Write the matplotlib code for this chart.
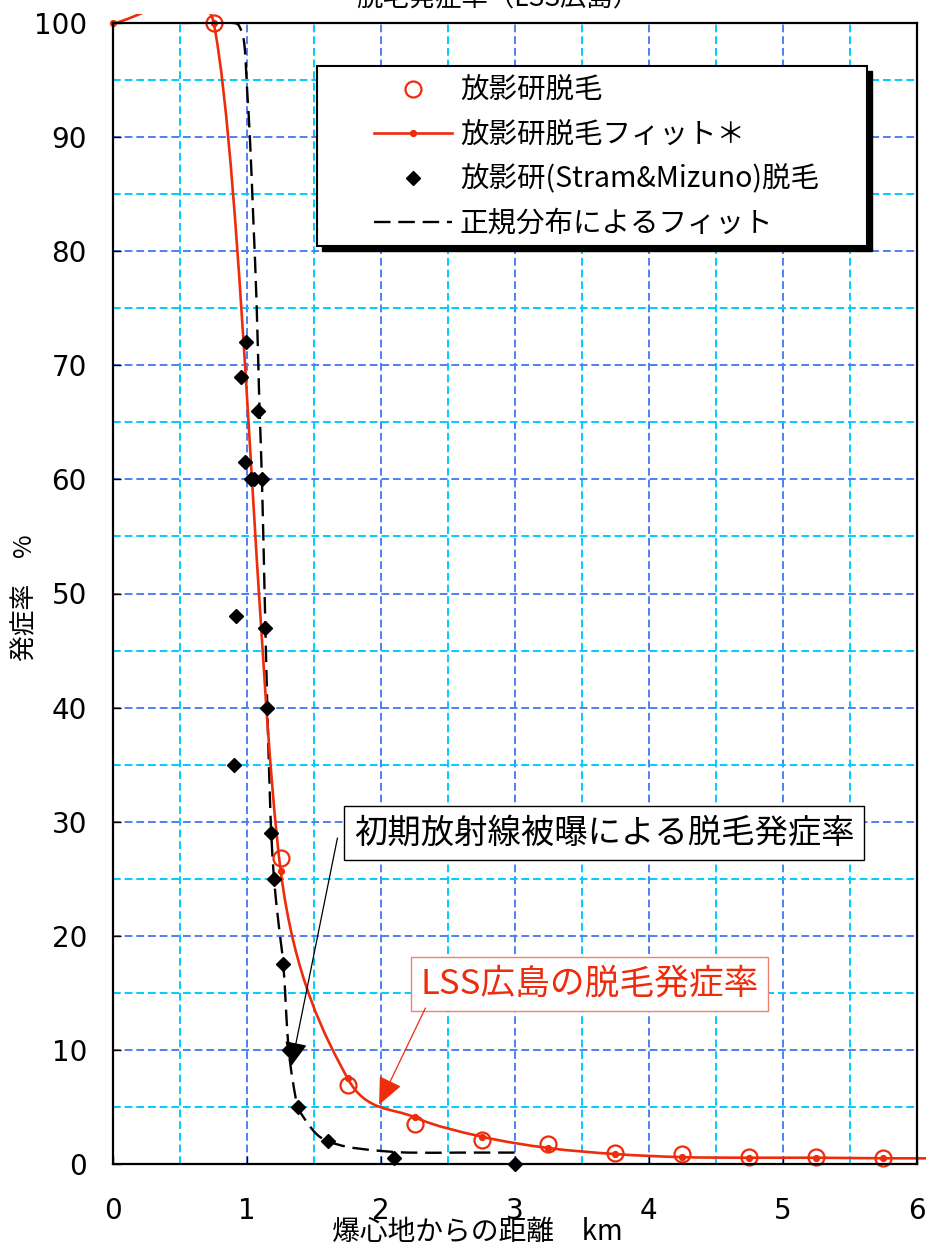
import numpy as np
import matplotlib
matplotlib.use("Agg")
import matplotlib.pyplot as plt
from matplotlib.path import Path
from matplotlib.patches import PathPatch, Rectangle
from matplotlib.lines import Line2D

plt.rcParams['font.family'] = ['Noto Sans CJK JP', 'DejaVu Sans']

# ---------------- data ----------------
title = "脱毛発症率（LSS広島）"
xlabel = "爆心地からの距離　km"
ylabel = "発症率　%"

# 放影研脱毛 (open circles)
rerf_x = [0.75, 1.25, 1.75, 2.25, 2.75, 3.25, 3.75, 4.25, 4.75, 5.25, 5.75]
rerf_y = [100, 26.8, 6.9, 3.5, 2.1, 1.75, 0.96, 0.87, 0.6, 0.6, 0.5]

# 放影研脱毛フィット＊ (smoothed red line with dots)
fit_x = [0.0, 0.75, 1.25, 1.75, 2.25, 2.75, 3.25, 3.75, 4.25, 4.75, 5.25, 5.75, 6.25]
fit_y = [100, 100, 25.7, 7.5, 4.1, 2.4, 1.4, 0.87, 0.6, 0.55, 0.55, 0.5, 0.5]

# 放影研(Stram&Mizuno)脱毛 (black diamonds)
sm_x = [0.90, 0.92, 0.95, 0.98, 0.99, 1.03, 1.05, 1.08, 1.11, 1.13, 1.15,
        1.18, 1.20, 1.27, 1.31, 1.38, 1.60, 2.10, 3.00]
sm_y = [35, 48, 69, 61.5, 72, 60, 60, 66, 60, 47, 40,
        29, 25, 17.5, 10, 5, 2, 0.5, 0]

# 正規分布によるフィット (black dashed)
norm_x = [0.5, 0.9, 0.95, 0.98, 1.0, 1.02, 1.045, 1.07, 1.09, 1.11, 1.13, 1.15,
          1.17, 1.18, 1.20, 1.235, 1.27, 1.29, 1.31, 1.34, 1.38, 1.45, 1.52,
          1.60, 1.75, 1.95, 2.2, 2.6, 3.0]
norm_y = [100, 100, 99.5, 98, 94, 90, 83, 75.5, 67, 60, 50, 40,
          32, 29, 25, 21, 17.5, 13.5, 10, 7.3, 5.0, 3.6, 2.6,
          2.0, 1.5, 1.2, 1.0, 1.0, 1.0]

legend_labels = ["放影研脱毛", "放影研脱毛フィット＊",
                 "放影研(Stram&Mizuno)脱毛", "正規分布によるフィット"]

note1 = "初期放射線被曝による脱毛発症率"
note2 = "LSS広島の脱毛発症率"

RED = "#ee2c0c"
MAJ = "#4d80f2"
MIN = "#00ccff"

fig = plt.figure(figsize=(9.26, 12.46), dpi=100)
W, H = 926, 1246
ax = fig.add_axes([113.3 / W, (H - 1164) / H, (916.7 - 113.3) / W, (1164 - 23) / H])
ax.set_xlim(0, 6)
ax.set_ylim(0, 100)


def excel_smooth(xs, ys):
    """Spreadsheet-style smoothed line: cubic Bezier through the points,
    tangent factor 1/6, capped at half the segment length (screen space)."""
    pts = np.column_stack([xs, ys]).astype(float)
    disp = ax.transData.transform(pts)
    n = len(pts)
    verts = [pts[0]]
    codes = [Path.MOVETO]
    for i in range(n - 1):
        i0 = i - 1 if i > 0 else i
        i3 = i + 2 if i + 2 < n else i + 1
        p0, p1, p2, p3 = pts[i0], pts[i], pts[i + 1], pts[i3]
        q0, q1, q2, q3 = disp[i0], disp[i], disp[i + 1], disp[i3]
        d12 = np.hypot(*(q2 - q1))
        d02 = np.hypot(*(q2 - q0))
        d13 = np.hypot(*(q3 - q1))
        f0 = 1 / 6 if d02 == 0 else min(1 / 6, d12 / (2 * d02))
        f1 = 1 / 6 if d13 == 0 else min(1 / 6, d12 / (2 * d13))
        c1 = p1 + (p2 - p0) * f0
        c2 = p2 - (p3 - p1) * f1
        verts += [c1, c2, p2]
        codes += [Path.CURVE4] * 3
    return Path(np.array(verts), codes)


ax.set_xticks(range(0, 7))
ax.set_xticks(np.arange(0.5, 6, 1.0), minor=True)
ax.set_yticks(range(0, 101, 10))
ax.set_yticks(range(5, 100, 10), minor=True)
ax.set_axisbelow(True)
ax.grid(which='major', color=MAJ, ls=(0, (4, 2)), lw=1.4)
ax.grid(which='minor', color=MIN, ls=(0, (4, 2)), lw=1.4)
ax.tick_params(which='major', direction='in', length=6, width=1, color='black',
               labelsize=20)
ax.tick_params(axis='y', which='major', pad=19)
ax.tick_params(axis='x', which='major', pad=24)
ax.tick_params(which='minor', length=0)
for lab in ax.get_xticklabels() + ax.get_yticklabels():
    lab.set_fontfamily(['DejaVu Sans'])
for s in ax.spines.values():
    s.set_linewidth(1.6)
    s.set_color('black')
    s.set_zorder(6)

# black dashed normal fit
norm_patch = PathPatch(excel_smooth(norm_x, norm_y), fill=False, edgecolor='black',
                       lw=1.7, ls=(0, (7, 3.3)), zorder=2.5)
ax.add_patch(norm_patch)

# red smoothed fit (drawn past the plot frame, up to the chart area edge)
chart_area = Rectangle((0, 0), 1, 1 - 14 / H, transform=fig.transFigure,
                       visible=False)
fit_patch = PathPatch(excel_smooth(fit_x, fit_y), fill=False, edgecolor=RED,
                      lw=1.9, zorder=3)
ax.add_patch(fit_patch)
fit_patch.set_clip_path(chart_area)
ax.plot(fit_x, fit_y, ls='none', marker='o', ms=4.2, color=RED, zorder=3.2,
        clip_on=False)

# diamonds
ax.plot(sm_x, sm_y, ls='none', marker='D', ms=7.5, color='black', mec='black',
        zorder=3.5, clip_on=False)

# open circles
ax.plot(rerf_x, rerf_y, ls='none', marker='o', ms=11.5, mfc='none', mec=RED,
        mew=1.6, zorder=3.3, clip_on=False)

# legend box with shadow
lx0, lx1 = (316.7 - 113.3) / 803.4, (866.7 - 113.3) / 803.4
ly0, ly1 = (1164 - 246) / 1141, (1164 - 65.7) / 1141
dx, dy = 5 / 803.4, 5 / 1141
ax.add_patch(Rectangle((lx0 + dx, ly0 - dy), lx1 - lx0, ly1 - ly0, transform=ax.transAxes,
                       facecolor='black', edgecolor='black', zorder=7, clip_on=False))
ax.add_patch(Rectangle((lx0, ly0), lx1 - lx0, ly1 - ly0, transform=ax.transAxes,
                       facecolor='white', edgecolor='black', lw=1.5, zorder=7.1,
                       clip_on=False))

handles = [
    Line2D([], [], ls='none', marker='o', ms=11.5, mfc='none', mec=RED, mew=1.6),
    Line2D([], [], color=RED, lw=1.9, marker='o', ms=4.2),
    Line2D([], [], ls='none', marker='D', ms=7.5, color='black'),
    Line2D([], [], color='black', lw=1.7, ls=(0, (7, 3.3))),
]
leg = ax.legend(handles, legend_labels, loc='upper left',
                bbox_to_anchor=((374 - 113.3) / 803.4, (1164 - 76) / 1141),
                frameon=False, fontsize=20.5, handlelength=2.74, handletextpad=0.28,
                labelspacing=0.5, borderpad=0, borderaxespad=0)
leg.set_zorder(8)

# annotations
ax.text(3.665, 29.0, note1, fontsize=24, color='black', ha='center', va='center',
        zorder=9, bbox=dict(boxstyle='square,pad=0.28', fc='white', ec='black', lw=1))
ax.annotate('', xy=(1.33, 8.6), xytext=(1.674, 28.57),
            arrowprops=dict(arrowstyle='-|>,head_length=0.75,head_width=0.35',
                            color='black', lw=0.9, shrinkA=0, shrinkB=0,
                            mutation_scale=20), zorder=9)

ax.text(3.557, 15.78, note2, fontsize=25, color=RED, ha='center', va='center',
        zorder=9, bbox=dict(boxstyle='square,pad=0.28', fc='white', ec='#f08070', lw=1))
ax.annotate('', xy=(1.985, 5.2), xytext=(2.331, 13.67),
            arrowprops=dict(arrowstyle='-|>,head_length=0.85,head_width=0.38',
                            color=RED, lw=0.9, shrinkA=0, shrinkB=0,
                            mutation_scale=20), zorder=9)

# labels & title
ax.set_xlabel(xlabel, fontsize=20, va='center')
ax.xaxis.set_label_coords((477 - 113.3) / 803.4, -(1232 - 1164) / 1141)
ax.set_ylabel(ylabel, fontsize=18.5, va='center')
ax.yaxis.set_label_coords((25 - 113.3) / 803.4, (1164 - 598) / 1141)
fig.text(498 / W, 1 - 6 / H, title, fontsize=19, ha='center', va='baseline')

fig.savefig("out.png", dpi=100)
